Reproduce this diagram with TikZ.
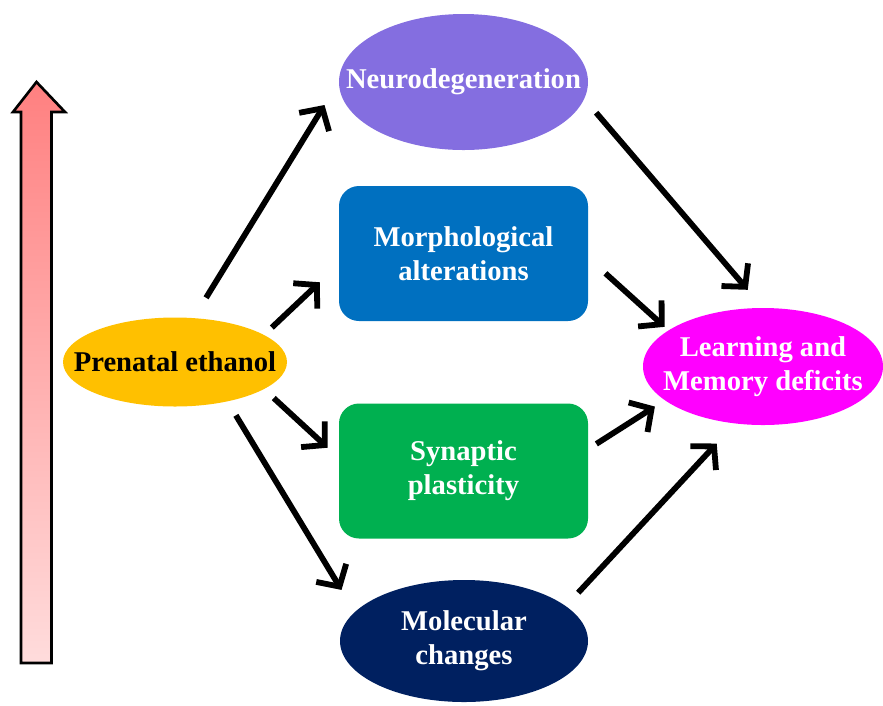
\documentclass[tikz,border=0pt]{standalone}
\usepackage{fontspec}
\setmainfont{Liberation Serif}
\usetikzlibrary{shapes.geometric,arrows.meta}
\definecolor{morado}{RGB}{132,110,224}
\definecolor{azul}{RGB}{0,112,192}
\definecolor{verde}{RGB}{0,176,80}
\definecolor{marino}{RGB}{0,32,96}
\definecolor{fucsia}{RGB}{255,0,255}
\definecolor{naranja}{RGB}{255,192,0}
\definecolor{rosaoscuro}{RGB}{255,128,128}
\definecolor{rosaclaro}{RGB}{255,220,220}
\begin{document}
\begin{tikzpicture}[
    every node/.style={font=\fontsize{16.3}{19.5}\selectfont\bfseries},
    ovalo/.style={ellipse, inner sep=0pt},
    rotulo/.style={text=white, align=center},
    caja/.style={rectangle, rounded corners=0.4cm, minimum width=4.98cm, minimum height=2.7cm, text=white, align=center},
    flecha/.style={-{Straight Barb[length=3.2mm,width=7mm]}, line width=3.3pt}
]
\useasboundingbox (0,0) rectangle (17.66,-14.1);
% Flecha lateral
\shadedraw[top color=rosaoscuro, bottom color=rosaclaro, draw=black, line width=1.5pt]
    (0.42,-13.26) -- (0.42,-2.24) -- (0.26,-2.24) -- (0.73,-1.64) -- (1.30,-2.24) -- (1.03,-2.24) -- (1.03,-13.26) -- cycle;
% Origen
\node[ovalo, fill=naranja, minimum width=4.48cm, minimum height=1.78cm, label={[text=black]center:Prenatal ethanol}] (etanol) at (3.5,-7.24) {};
% Efectos
\node[ovalo, fill=morado, minimum width=4.98cm, minimum height=2.72cm, label={[rotulo]center:Neurodegeneration}] (neuro) at (9.27,-1.64) {};
\node[caja, fill=azul] (morfo) at (9.27,-5.07) {Morphological\\alterations};
\node[caja, fill=verde] (sinapsis) at (9.27,-9.42) {Synaptic\\plasticity};
\node[ovalo, fill=marino, minimum width=4.96cm, minimum height=2.44cm, label={[rotulo]center:Molecular\\changes}] (molecular) at (9.28,-12.82) {};
% Resultado
\node[ovalo, fill=fucsia, minimum width=4.8cm, minimum height=2.34cm, label={[rotulo]center:Learning and\\Memory deficits}] (deficit) at (15.26,-7.33) {};
% Aristas
\draw[flecha, shorten <=0.47cm, shorten >=0.54cm] (etanol.67) -- (neuro.180);
\draw[flecha, shorten <=0.21cm, shorten >=0.52cm] (etanol.17) -- (morfo.185);
\draw[flecha, shorten <=0.26cm, shorten >=0.30cm] (etanol.343) -- (sinapsis.174);
\draw[flecha, shorten <=0.32cm, shorten >=0.51cm] (etanol.323) -- (molecular.165);
\draw[flecha, shorten <=0.36cm, shorten >=0.47cm] (neuro.352) -- (deficit.north);
\draw[flecha, shorten <=0.46cm, shorten >=0.10cm] (morfo.358) -- (deficit.159);
\draw[flecha, shorten <=0.19cm, shorten >=0.23cm] (sinapsis.10) -- (deficit.199);
\draw[flecha, shorten <=0.36cm, shorten >=0.54cm] (molecular.19) -- (deficit.244);
\end{tikzpicture}
\end{document}
